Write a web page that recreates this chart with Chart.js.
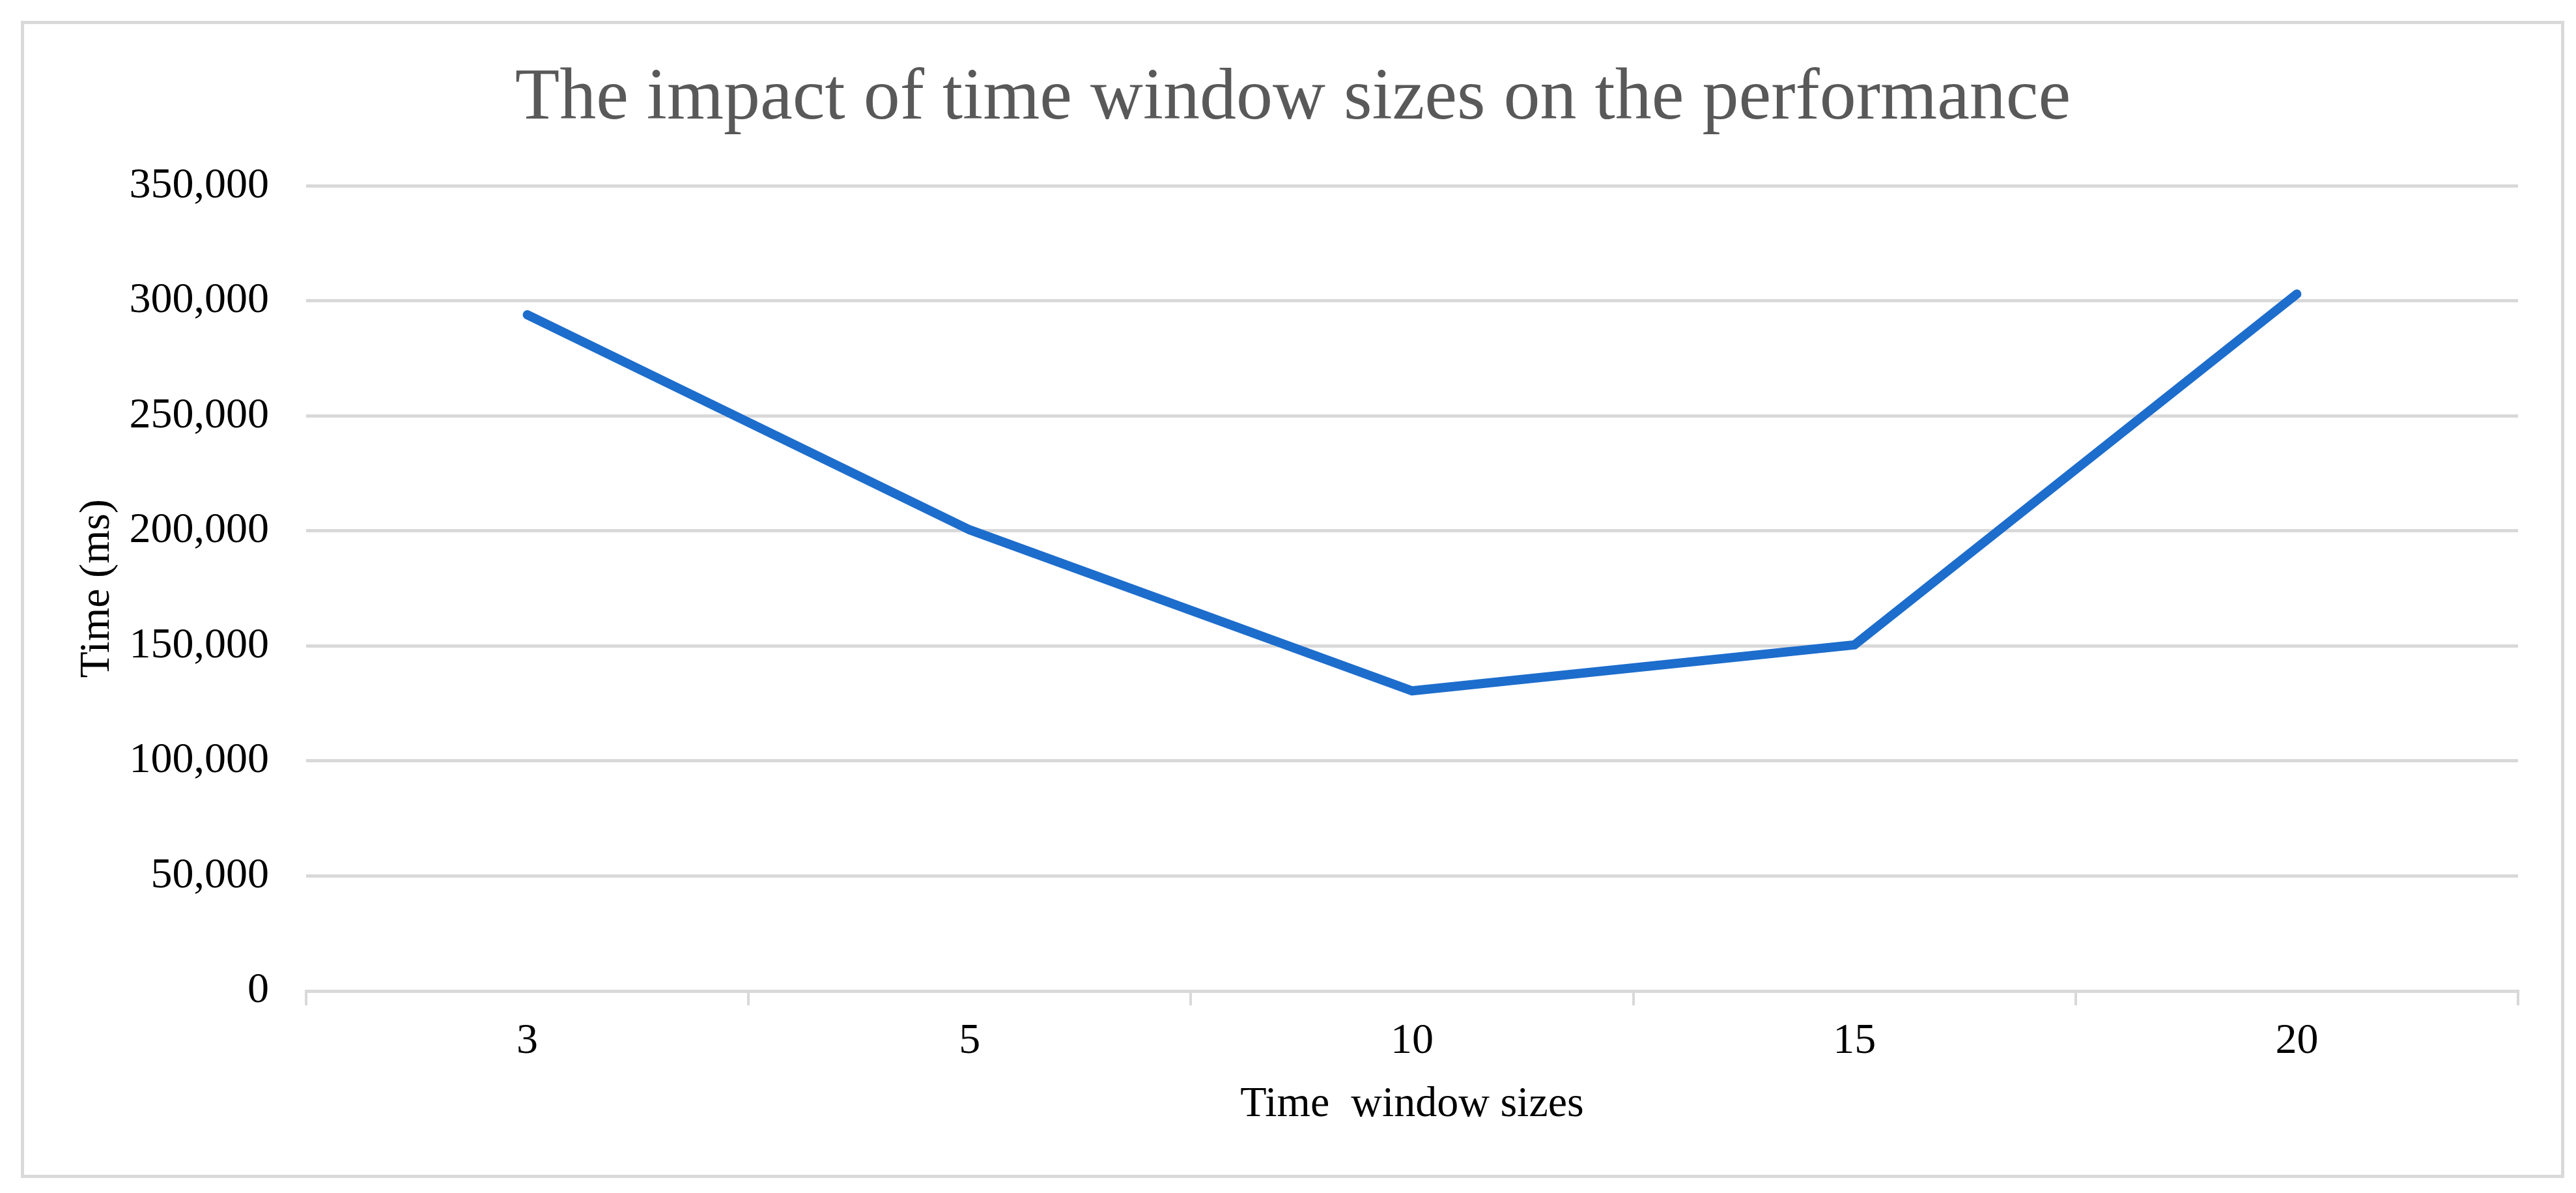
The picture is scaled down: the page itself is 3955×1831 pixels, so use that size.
<!DOCTYPE html>
<html>
<head>
<meta charset="utf-8">
<script src="https://cdn.jsdelivr.net/npm/chart.js@4.4.1/dist/chart.umd.min.js"></script>
<style>
  html, body { margin: 0; padding: 0; background: #fff; }
  .frame {
    position: absolute;
    left: 32px;
    top: 32px;
    width: 3905px;
    height: 1776px;
    border: 5px solid #d9d9d9;
    box-sizing: border-box;
  }
  #chart { position: absolute; left: 0; top: 0; }
</style>
</head>
<body>
<div class="frame"></div>
<canvas id="chart" width="3955" height="1831"></canvas>

<script>
const windowSizes = ['3', '5', '10', '15', '20'];
const timeMs = [294000, 200500, 130500, 150500, 303000];
const yTicks = [0, 50000, 100000, 150000, 200000, 250000, 300000, 350000];

const serif = 'Liberation Serif, Times New Roman, serif';

new Chart(document.getElementById('chart'), {
  type: 'line',
  data: {
    labels: windowSizes,
    datasets: [{
      label: 'Time (ms)',
      data: timeMs,
      borderColor: '#1d6dcc',
      backgroundColor: '#1d6dcc',
      borderWidth: 14,
      borderCapStyle: 'round',
      pointRadius: 0,
      tension: 0,
      fill: false
    }]
  },
  options: {
    responsive: false,
    animation: false,
    devicePixelRatio: 1,
    // left padding shifts the centred title to where the reference has it
    layout: { padding: { left: 104, right: 89, top: 0, bottom: 96 } },
    plugins: {
      legend: { display: false },
      tooltip: { enabled: false },
      title: {
        display: true,
        text: 'The impact of time window sizes on the performance',
        color: '#595959',
        font: { family: serif, size: 112, weight: 'normal' },
        padding: { top: 85, bottom: 66 }
      }
    },
    scales: {
      x: {
        offset: true,
        afterFit: s => { s.height = 214; },
        grid: {
          offset: true,
          drawOnChartArea: false,
          drawTicks: true,
          tickLength: 22,
          color: '#d9d9d9',
          lineWidth: 4
        },
        border: { display: true, color: '#d9d9d9', width: 5 },
        ticks: {
          padding: 16,
          color: '#000',
          font: { family: serif, size: 66 }
        },
        title: {
          display: true,
          text: 'Time  window sizes',
          color: '#000',
          font: { family: serif, size: 66 },
          padding: { top: 1, bottom: 0 }
        }
      },
      y: {
        min: yTicks[0],
        max: yTicks[yTicks.length - 1],
        afterFit: s => { s.width = 366; },
        afterBuildTicks: s => { s.ticks = yTicks.map(v => ({ value: v })); },
        grid: { color: '#d9d9d9', lineWidth: 5, drawTicks: false },
        border: { display: false },
        ticks: {
          padding: 57,
          color: '#000',
          font: { family: serif, size: 66 },
          callback: v => v.toLocaleString('en-US')
        },
        title: {
          display: true,
          text: 'Time (ms)',
          color: '#000',
          font: { family: serif, size: 66 },
          padding: { top: 6, bottom: 0 }
        }
      }
    }
  }
});
</script>
</body>
</html>
